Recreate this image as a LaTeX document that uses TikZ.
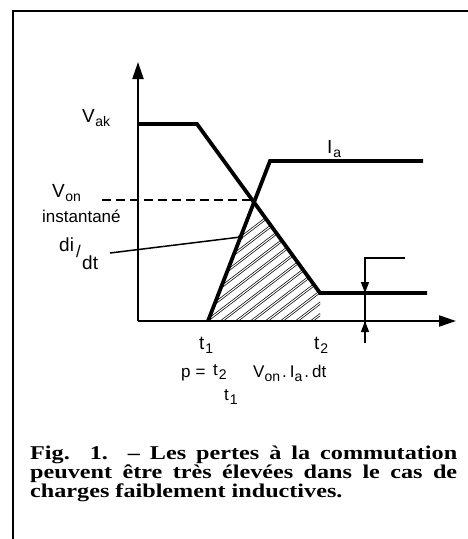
\documentclass[tikz,border=0pt]{standalone}
\usepackage{fontspec}
\setmainfont{Liberation Serif}
\newfontfamily\capfont[FakeStretch=1.24]{Liberation Serif}
\newfontfamily\labfont{Liberation Sans}
\usetikzlibrary{arrows.meta,calc}
\newcommand\lsb[1]{\raisebox{-0.45ex}{\fontsize{14}{14}\selectfont #1}}
\tikzset{
  frameline/.style={line width=2.8pt},
  axisline/.style={line width=2.2pt, -{Triangle[length=17pt,width=11pt]}},
  curve/.style={line width=3.8pt, line join=miter},
  thin/.style={line width=1.5pt},
  meas/.style={line width=1.5pt, -{Triangle[length=11pt,width=8pt]}},
  hatch/.style={double, double distance=1.1pt, line width=0.7pt},
  lab/.style={font=\labfont\fontsize{19}{19}\selectfont, inner sep=0pt},
  smalllab/.style={font=\labfont\fontsize{17}{17}\selectfont, inner sep=0pt},
  capline/.style={font=\capfont\bfseries\fontsize{19.5}{18}\selectfont, inner sep=0pt}
}
\begin{document}
\begin{tikzpicture}[x=1pt,y=-1pt]
\useasboundingbox (0,0) rectangle (467,539);
% frame
\coordinate (fbl) at (13,545);
\coordinate (ftl) at (13,11);
\coordinate (ftr) at (472,11);
\draw[frameline] (fbl) -- (ftl) -- (ftr);
% axes
\coordinate (O) at (138,321);
\coordinate (ytop) at (138,62);
\coordinate (xend) at (456,321);
% curves
\coordinate (v0) at (138,124);
\coordinate (v1) at (197,124);
\coordinate (v2) at (320,293);
\coordinate (v3) at (427,293);
\coordinate (i0) at (208,321);
\coordinate (i1) at (270,161);
\coordinate (i2) at (423,161);
\coordinate (X) at (intersection of v1--v2 and i0--i1);
\coordinate (t2b) at (320,321);
% hatch
\begin{scope}
  \clip (i0) -- (X) -- (v2) -- (t2b) -- cycle;
  \foreach \k in {0,...,22} {
    \draw[hatch] (120+\k*15,330) -- ++(170,-130);
  }
\end{scope}
\draw[axisline] (O) -- (ytop);
\draw[axisline] (O) -- (xend);
\draw[curve] (v0) -- (v1) -- (v2) -- (v3);
\draw[curve] (i0) -- (i1) -- (i2);
% dashed V_on line
\coordinate (dstart) at (102,200);
\draw[line width=1.8pt, dash pattern=on 9pt off 5pt] (dstart) -- (dstart -| X);
% di/dt pointer
\coordinate (dot) at ($(i0)!0.525!(i1)$);
\coordinate (pstart) at (110,253);
\draw[thin] (pstart) -- (dot);
\fill (dot) circle (2.5);
% measurement arrows
\coordinate (m0) at (405,258);
\coordinate (m1) at (365,258);
\coordinate (mtop) at (365,293);
\coordinate (mbot) at (365,321);
\coordinate (mend) at (365,343);
\draw[thin] (m0) -- (m1) -- (mend);
\draw[meas] (m1) -- (mtop);
\draw[meas] (mend) -- (mbot);
% labels
\node[lab, anchor=base west] (lvak) at (82,122) {V\kern0.5pt\lsb{ak}};
\node[lab, anchor=base west] (lia) at (327,153) {I\kern1pt\lsb{a}};
\node[lab, anchor=base west] (lvon) at (52,197) {V\kern0.5pt\lsb{on}};
\node[smalllab, anchor=base west] (linst) at (42,222) {instantané};
\node[lab, anchor=base west] (ldi) at (59,251) {di};
\node[smalllab, anchor=base west] (lsl) at (76,257) {/};
\node[lab, anchor=base west] (ldt) at (82,269) {dt};
\node[lab, anchor=base west] (lt1) at (199,349) {t\kern1pt\lsb{1}};
\node[lab, anchor=base west] (lt2) at (314,349) {t\kern1pt\lsb{2}};
% formula
\node[smalllab, anchor=base west] (fp) at (181,377) {p\kern5pt=};
\node[smalllab, anchor=base west] (ft2) at (213,375) {t\kern1pt\lsb{2}};
\node[smalllab, anchor=base west] (ft1) at (224,400) {t\kern1pt\lsb{1}};
\node[smalllab, anchor=base west] (fv) at (253,377) {V\lsb{on}\kern2pt.\kern3pt I\lsb{a}\kern2pt.\kern3pt dt};
% caption
\node[capline, anchor=base west] (cap1) at (30,459) {\makebox[427pt][s]{Fig. 1. – Les pertes à la commutation}};
\node[capline, anchor=base west] (cap2) at (30,478) {\makebox[427pt][s]{peuvent être très élevées dans le cas de}};
\node[capline, anchor=base west] (cap3) at (30,497) {charges faiblement inductives.};
\end{tikzpicture}
\end{document}
